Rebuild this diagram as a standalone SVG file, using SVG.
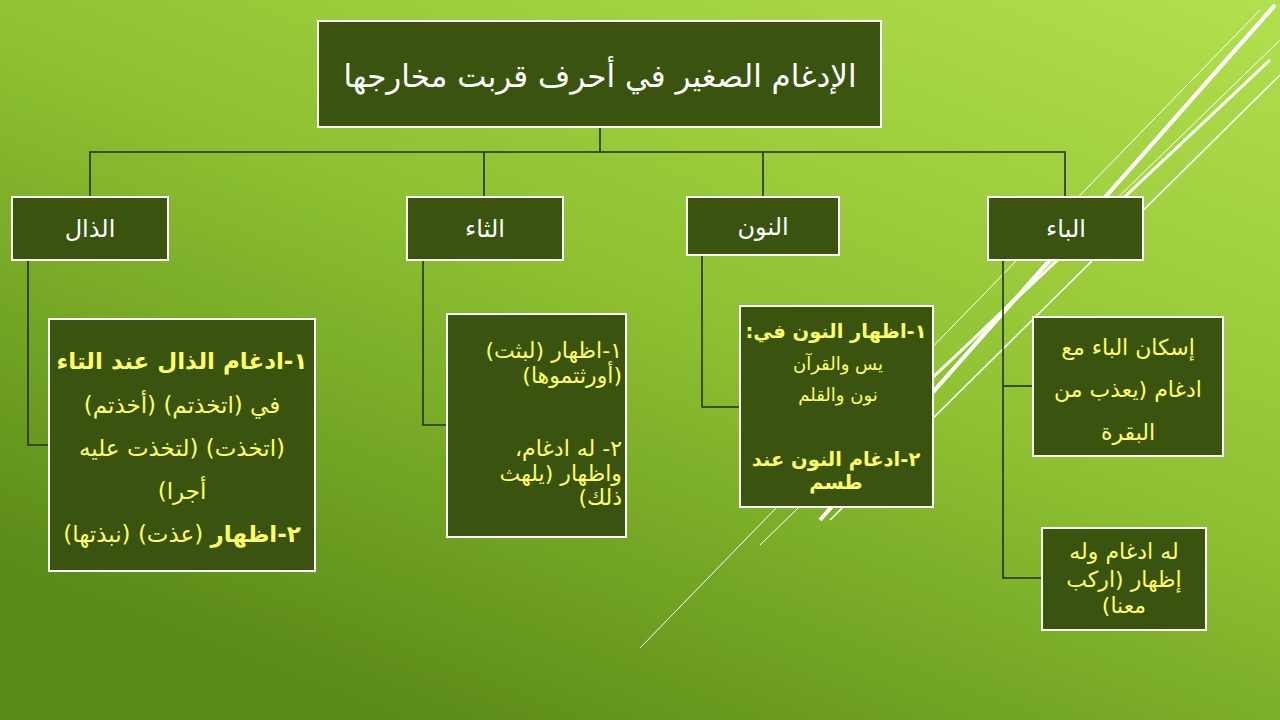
<svg xmlns="http://www.w3.org/2000/svg" width="1280" height="720" viewBox="0 0 1280 720">
<defs>
<linearGradient id="bg" x1="1" y1="0" x2="0.3" y2="1">
<stop offset="0" stop-color="#b2e04e"/>
<stop offset="0.5" stop-color="#8ec232"/>
<stop offset="1" stop-color="#5a8a18"/>
</linearGradient>
<style>
.box{fill:#3a5410;stroke:#ffffff;stroke-width:2}
.c{fill:none;stroke:#22300a;stroke-width:1.6}
.deco{stroke:#ffffff;fill:none}
.w{fill:#ffffff;font-family:"DejaVu Sans",sans-serif;font-size:24px;text-anchor:middle}
.y{fill:#ffff66;font-family:"DejaVu Sans",sans-serif;font-size:21px}
.b{font-weight:bold}
</style>
</defs>
<rect width="1280" height="720" fill="url(#bg)"/>
<g id="decor">
<line class="deco" x1="1275" y1="5" x2="820" y2="520" stroke-width="4"/>
<line class="deco" x1="1280" y1="40" x2="760" y2="545" stroke-width="1"/>
<line class="deco" x1="1260" y1="10" x2="640" y2="648" stroke-width="1"/>
<line class="deco" x1="1280" y1="75" x2="830" y2="520" stroke-width="1.5"/>
<line class="deco" x1="1270" y1="60" x2="930" y2="380" stroke-width="3"/>
</g>
<g id="connectors">
<polyline class="c" points="600,127 600,152"/>
<polyline class="c" points="90,197 90,152 1065,152 1065,197"/>
<line class="c" x1="484" y1="152" x2="484" y2="197"/>
<line class="c" x1="763" y1="152" x2="763" y2="197"/>
<polyline class="c" points="28,260 28,445 49,445"/>
<polyline class="c" points="423,260 423,425 447,425"/>
<polyline class="c" points="702,255 702,407 740,407"/>
<polyline class="c" points="1003,260 1003,578 1042,578"/>
<line class="c" x1="1003" y1="386" x2="1033" y2="386"/>
</g>
<g id="title"><rect class="box" x="318" y="21" width="563" height="106"/><text class="w" x="600" y="87" style="font-size:31px" direction="rtl">الإدغام الصغير في أحرف قربت مخارجها</text></g>
<g id="n-thal"><rect class="box" x="12" y="197" width="156" height="63"/><text class="w" x="90" y="237">الذال</text></g>
<g id="n-tha"><rect class="box" x="407" y="197" width="156" height="63"/><text class="w" x="485" y="237">الثاء</text></g>
<g id="n-noon"><rect class="box" x="687" y="197" width="152" height="58"/><text class="w" x="763" y="235">النون</text></g>
<g id="n-ba"><rect class="box" x="988" y="197" width="155" height="63"/><text class="w" x="1066" y="237">الباء</text></g>
<g id="d-thal"><rect class="box" x="49" y="319" width="266" height="252"/>
<g class="y" text-anchor="middle" direction="rtl" style="font-size:23px">
<text class="b" x="182" y="369">١-ادغام الذال عند التاء</text>
<text x="182" y="413">في (اتخذتم) (أخذتم)</text>
<text x="182" y="456">(اتخذت) (لتخذت عليه</text>
<text x="182" y="499">أجرا)</text>
<text x="182" y="542"><tspan class="b">٢-اظهار</tspan> (عذت) (نبذتها)</text>
</g></g>
<g id="d-tha"><rect class="box" x="447" y="314" width="179" height="223"/>
<g class="y" direction="rtl" text-anchor="start" style="font-size:22px">
<text x="622" y="358">١-اظهار (لبثت)</text>
<text x="622" y="383">(أورثتموها)</text>
<text x="622" y="456">٢- له ادغام،</text>
<text x="622" y="481">واظهار (يلهث</text>
<text x="622" y="505">ذلك)</text>
</g></g>
<g id="d-noon"><rect class="box" x="740" y="306" width="193" height="201"/>
<g class="y" text-anchor="middle" direction="rtl" style="font-size:19.5px">
<text class="b" x="836" y="338">١-اظهار النون في:</text>
<text x="838" y="370" style="font-size:18px">يس والقرآن</text>
<text x="838" y="401" style="font-size:18px">نون والقلم</text>
<text class="b" x="836" y="466">٢-ادغام النون عند</text>
<text class="b" x="836" y="489">طسم</text>
</g></g>
<g id="d-ba1"><rect class="box" x="1033" y="317" width="190" height="139"/>
<g class="y" text-anchor="middle" direction="rtl" style="font-size:22px">
<text x="1128" y="355">إسكان الباء مع</text>
<text x="1128" y="397">ادغام (يعذب من</text>
<text x="1128" y="440">البقرة</text>
</g></g>
<g id="d-ba2"><rect class="box" x="1042" y="528" width="164" height="102"/>
<g class="y" text-anchor="middle" direction="rtl" style="font-size:22px">
<text x="1124" y="559">له ادغام وله</text>
<text x="1124" y="587">إظهار (اركب</text>
<text x="1124" y="613">معنا)</text>
</g></g>
</svg>
